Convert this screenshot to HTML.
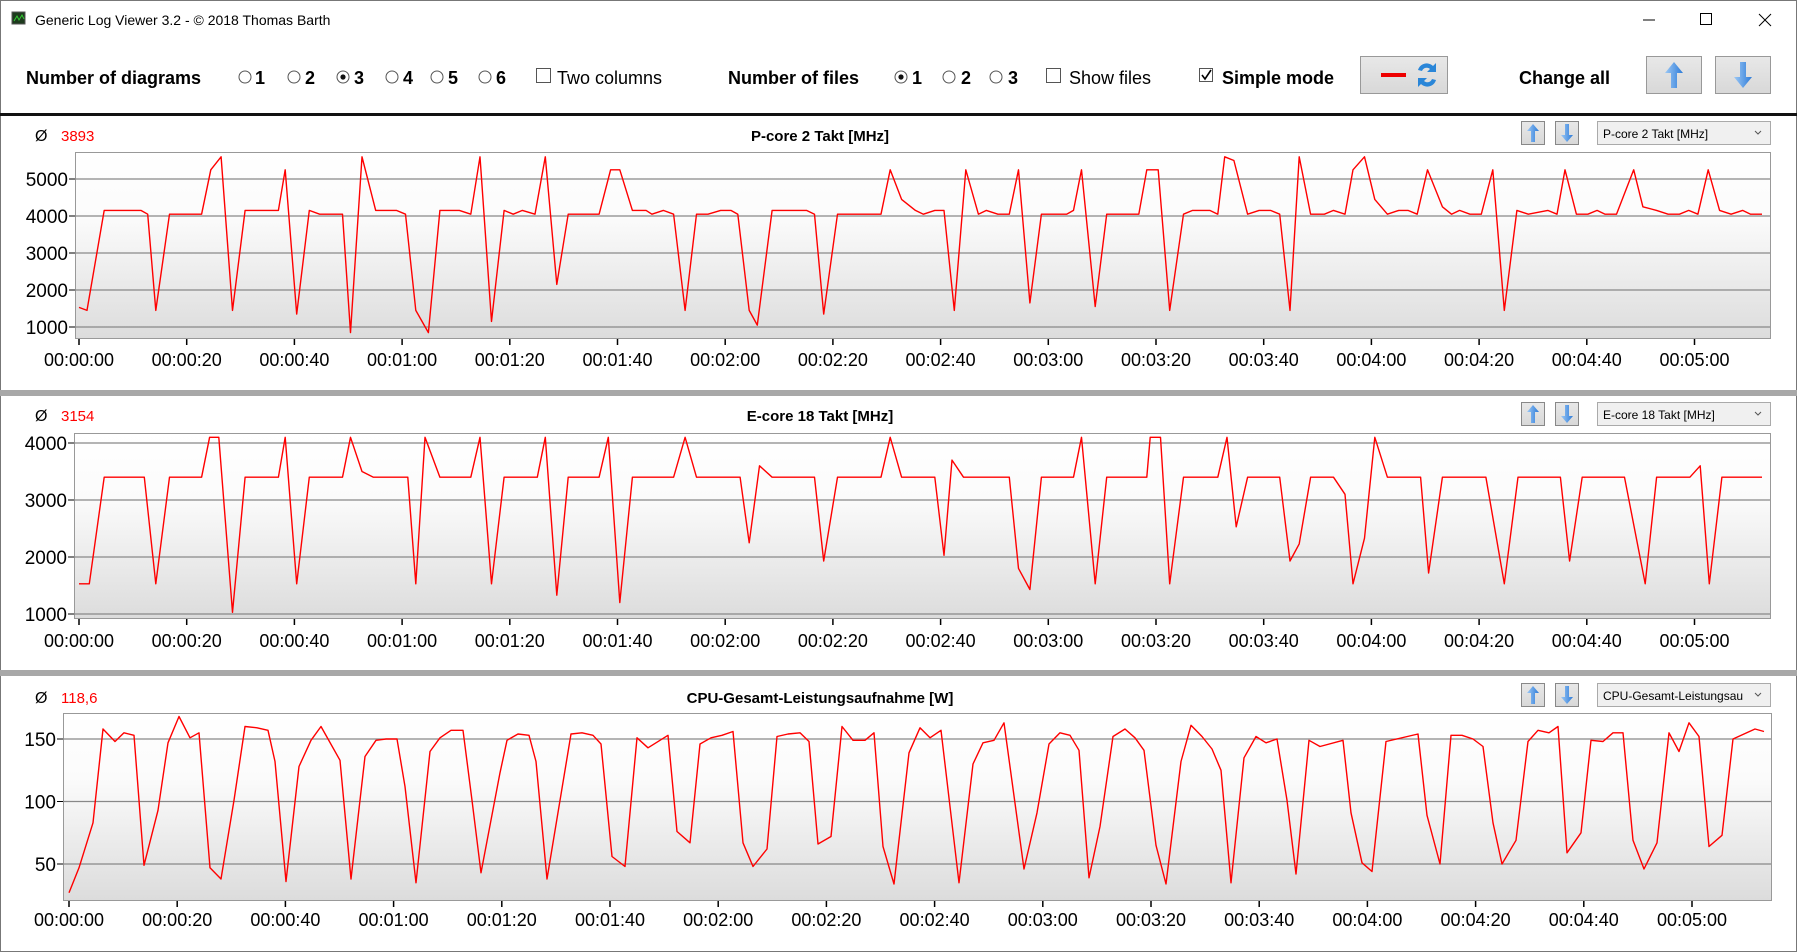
<!DOCTYPE html>
<html><head><meta charset="utf-8"><style>
html,body{margin:0;padding:0;background:#fff;width:1797px;height:952px;overflow:hidden}
svg{display:block;font-family:"Liberation Sans",sans-serif}
</style></head><body>
<svg id="s" width="1797" height="952" viewBox="0 0 1797 952" xmlns="http://www.w3.org/2000/svg">
<defs>
<linearGradient id="bg" x1="0" y1="0" x2="0" y2="1">
<stop offset="0" stop-color="#ffffff"/><stop offset="0.35" stop-color="#fbfbfb"/><stop offset="1" stop-color="#dcdcdc"/>
</linearGradient>
<linearGradient id="btn" x1="0" y1="0" x2="0" y2="1"><stop offset="0" stop-color="#e8e8e8"/><stop offset="1" stop-color="#d8d8d8"/></linearGradient>
<linearGradient id="arr" x1="0" y1="0" x2="1" y2="0"><stop offset="0" stop-color="#9cc8f5"/><stop offset="1" stop-color="#2d7bd8"/></linearGradient>
</defs>
<rect x="0.5" y="0.5" width="1796" height="951" fill="#fff" stroke="#777"/>
<rect x="12" y="12" width="13" height="12" fill="#1d3b1d" stroke="#555"/>
<polyline points="14,21 17,16 19,20 22,15 24,19" fill="none" stroke="#3c3" stroke-width="1"/>
<text x="35" y="25" font-size="14" fill="#000">Generic Log Viewer 3.2 - © 2018 Thomas Barth</text>
<line x1="1643" y1="20" x2="1655" y2="20" stroke="#000"/>
<rect x="1700.5" y="13.5" width="11" height="11" fill="none" stroke="#000"/>
<path d="M1759 14 L1771 26 M1771 14 L1759 26" stroke="#000"/>
<g font-size="18" font-weight="bold" fill="#000">
<text x="26" y="84">Number of diagrams</text>
<text x="255" y="84">1</text><text x="305" y="84">2</text><text x="354" y="84">3</text>
<text x="403" y="84">4</text><text x="448" y="84">5</text><text x="496" y="84">6</text>
<text x="728" y="84">Number of files</text>
<text x="912" y="84">1</text><text x="961" y="84">2</text><text x="1008" y="84">3</text>
<text x="1222" y="84">Simple mode</text>
<text x="1519" y="84">Change all</text>
</g>
<g fill="#fff" stroke="#555" stroke-width="1">
<circle cx="245" cy="77" r="6"/><circle cx="294" cy="77" r="6"/><circle cx="343" cy="77" r="6"/>
<circle cx="392" cy="77" r="6"/><circle cx="437" cy="77" r="6"/><circle cx="485" cy="77" r="6"/>
<circle cx="901" cy="77" r="6"/><circle cx="949" cy="77" r="6"/><circle cx="996" cy="77" r="6"/>
<rect x="536.5" y="68.5" width="14" height="14"/><rect x="1046.5" y="68.5" width="14" height="14"/>
<rect x="1199.5" y="68.5" width="13" height="13"/>
</g>
<circle cx="343" cy="77" r="2.6" fill="#111"/><circle cx="901" cy="77" r="2.6" fill="#111"/>
<path d="M1202 75 L1205 79 L1211 70" fill="none" stroke="#000" stroke-width="1.6"/>
<text x="557" y="84" font-size="18" fill="#000">Two columns</text>
<text x="1069" y="84" font-size="18" fill="#000">Show files</text>
<rect x="1360.5" y="56.5" width="87" height="37" fill="url(#btn)" stroke="#999"/>
<rect x="1381" y="73" width="25" height="4" fill="#e00"/>
<path d="M1418 70 a9 9 0 0 1 15 -4 l3 -3 v9 h-9 l3 -3 a5 5 0 0 0 -8 2z M1436 80 a9 9 0 0 1 -15 4 l-3 3 v-9 h9 l-3 3 a5 5 0 0 0 8 -2z" fill="#2a86d8"/>
<rect x="1646.5" y="56.5" width="55" height="37" fill="url(#btn)" stroke="#999"/>
<rect x="1715.5" y="56.5" width="55" height="37" fill="url(#btn)" stroke="#999"/>
<path d="M1674 62 L1683 73 L1677 73 L1677 88 L1671 88 L1671 73 L1665 73 Z" fill="url(#arr)"/>
<path d="M1743 88 L1752 77 L1746 77 L1746 62 L1740 62 L1740 77 L1734 77 Z" fill="url(#arr)"/>
<rect x="0" y="113" width="1797" height="3" fill="#111"/>
<rect x="0" y="390" width="1797" height="6" fill="#a8a8a8"/>
<rect x="0" y="670" width="1797" height="6" fill="#a8a8a8"/>
<g id="charts"></g>
</svg>
<script>
var NS="http://www.w3.org/2000/svg",G=document.getElementById("charts");
function el(t,a,txt){var e=document.createElementNS(NS,t);for(var k in a)e.setAttribute(k,a[k]);if(txt!==undefined)e.textContent=txt;G.appendChild(e);return e;}
function pad(n){return (n<10?"0":"")+n;}
function chart(o){
 el("text",{x:35,y:o.hy+6,"font-size":16,fill:"#000"},"Ø");
 el("text",{x:61,y:o.hy+6,"font-size":15,fill:"#f00"},o.avg);
 el("text",{x:820,y:o.hy+6,"font-size":15,"font-weight":"bold","text-anchor":"middle",fill:"#000"},o.title);
 var by=o.by;
 [[1521,1],[1555,0]].forEach(function(b){
  el("rect",{x:b[0]+.5,y:by+.5,width:23,height:23,fill:"url(#btn)",stroke:"#888"});
  var cx=b[0]+12;
  if(b[1])el("path",{d:"M"+cx+" "+(by+3)+" l6 7 h-4 v11 h-4 v-11 h-4z",fill:"url(#arr)"});
  else el("path",{d:"M"+cx+" "+(by+21)+" l6 -7 h-4 v-11 h-4 v11 h-4z",fill:"url(#arr)"});
 });
 el("rect",{x:1597.5,y:by+.5,width:173,height:23,fill:"#f0f0f0",stroke:"#aaa"});
 el("text",{x:1603,y:by+17,"font-size":12,fill:"#000"},o.dd);
 el("path",{d:"M1755 "+(by+10)+" l3 3 l3 -3",fill:"none",stroke:"#555"});
 el("rect",{x:o.L+.5,y:o.T+.5,width:o.R-o.L,height:o.B-o.T,fill:"url(#bg)",stroke:"#999"});
 o.grid.forEach(function(v){var y=o.vy(v);
  el("line",{x1:o.L,x2:o.R,y1:y,y2:y,stroke:"#888","stroke-width":1.2});
  el("line",{x1:o.L-6,x2:o.L,y1:y,y2:y,stroke:"#000"});
  el("text",{x:o.L-7,y:y+7,"font-size":19,"text-anchor":"end",fill:"#000"},v);
 });
 for(var k=0;k<16;k++){var x=o.x0+k*20*o.ps;
  el("line",{x1:x,x2:x,y1:o.B+1,y2:o.B+7,stroke:"#000","stroke-width":1.5});
  var s=k*20;el("text",{x:x,y:o.ly,"font-size":18,"text-anchor":"middle",fill:"#000"},"00:"+pad(Math.floor(s/60))+":"+pad(s%60));
 }
 var pts=o.d.map(function(p){return (o.px(p[0])).toFixed(1)+","+o.vy(p[1]).toFixed(1);}).join(" ");
 el("polyline",{points:pts,fill:"none",stroke:"#f00","stroke-width":1.4,"stroke-linejoin":"round"});
}
var d1=[[68,1530],[75,1450],[90,4150],[122,4150],[128,4050],[135,1450],[147,4050],[175,4050],[183,5250],[192,5600],[202,1450],[213,4150],[242,4150],[248,5250],[258,1350],[269,4150],[278,4050],[298,4050],[305,850],[315,5600],[327,4150],[345,4150],[353,4050],[362,1450],[373,850],[383,4150],[400,4150],[410,4050],[418,5600],[428,1150],[439,4150],[447,4050],[455,4150],[466,4050],[475,5600],[485,2150],[495,4050],[522,4050],[532,5250],[540,5250],[551,4150],[563,4150],[568,4050],[578,4150],[587,4050],[597,1450],[607,4050],[617,4050],[628,4150],[637,4150],[643,4050],[653,1450],[660,1050],[673,4150],[703,4150],[710,4050],[718,1350],[730,4050],[768,4050],[776,5250],[786,4450],[798,4150],[805,4050],[815,4150],[823,4150],[832,1450],[842,5250],[853,4050],[860,4150],[870,4050],[880,4050],[888,5250],[898,1650],[908,4050],[930,4050],[936,4150],[943,5250],[955,1550],[965,4050],[993,4050],[1000,5250],[1010,5250],[1020,1450],[1032,4050],[1040,4150],[1055,4150],[1062,4050],[1068,5600],[1076,5500],[1088,4050],[1098,4150],[1108,4150],[1116,4050],[1125,1450],[1133,5600],[1143,4050],[1155,4050],[1163,4150],[1173,4050],[1180,5250],[1190,5600],[1199,4450],[1210,4050],[1220,4150],[1228,4150],[1236,4050],[1245,5250],[1258,4250],[1266,4050],[1273,4150],[1282,4050],[1292,4050],[1302,5250],[1312,1450],[1323,4150],[1333,4050],[1350,4150],[1358,4050],[1365,5250],[1375,4050],[1385,4050],[1393,4150],[1400,4050],[1410,4050],[1425,5250],[1433,4250],[1445,4150],[1455,4050],[1465,4050],[1473,4150],[1481,4050],[1490,5250],[1500,4150],[1510,4050],[1520,4150],[1527,4050],[1537,4050]];
var d2=[[68,1530],[77,1530],[90,3400],[125,3400],[135,1530],[147,3400],[175,3400],[182,4100],[190,4100],[202,1030],[213,3400],[242,3400],[248,4100],[258,1530],[269,3400],[298,3400],[305,4100],[315,3500],[325,3400],[355,3400],[362,1530],[370,4100],[383,3400],[410,3400],[418,4100],[428,1530],[439,3400],[468,3400],[475,4100],[485,1330],[495,3400],[522,3400],[530,4100],[540,1200],[551,3400],[587,3400],[597,4100],[607,3400],[645,3400],[653,2250],[662,3600],[673,3400],[710,3400],[718,1930],[730,3400],[768,3400],[776,4100],[786,3400],[815,3400],[823,2030],[830,3700],[840,3400],[880,3400],[888,1800],[898,1430],[908,3400],[936,3400],[943,4100],[955,1530],[965,3400],[1000,3400],[1003,4100],[1012,4100],[1020,1530],[1032,3400],[1062,3400],[1070,4100],[1078,2530],[1088,3400],[1116,3400],[1125,1930],[1133,2230],[1143,3400],[1163,3400],[1173,3100],[1180,1530],[1190,2330],[1199,4100],[1210,3400],[1239,3400],[1246,1720],[1258,3400],[1296,3400],[1312,1530],[1324,3400],[1361,3400],[1369,1930],[1380,3400],[1417,3400],[1435,1530],[1445,3400],[1474,3400],[1483,3600],[1491,1530],[1502,3400],[1537,3400]];
var d3=[[69,27],[79,47],[93,83],[103,158],[115,148],[124,155],[134,153],[144,49],[158,93],[168,147],[179,168],[190,151],[199,155],[210,47],[221,38],[234,101],[245,160],[257,159],[268,157],[275,132],[286,36],[299,128],[311,149],[321,160],[340,133],[351,38],[365,136],[376,149],[386,150],[397,150],[405,112],[416,35],[430,140],[440,151],[451,157],[463,157],[472,101],[481,43],[500,123],[507,149],[518,154],[529,153],[536,132],[547,38],[571,154],[582,155],[593,153],[601,146],[612,56],[625,48],[637,151],[648,143],[668,153],[677,76],[690,67],[700,146],[711,151],[722,153],[733,156],[743,67],[753,48],[767,62],[777,152],[788,154],[800,155],[809,148],[818,66],[831,72],[842,160],[853,149],[865,149],[874,155],[883,64],[894,34],[909,139],[920,159],[930,151],[941,157],[959,35],[973,130],[983,147],[994,149],[1004,163],[1024,46],[1037,91],[1049,146],[1060,155],[1070,153],[1079,141],[1089,39],[1100,80],[1113,152],[1125,158],[1135,151],[1144,141],[1156,65],[1166,34],[1181,132],[1191,161],[1202,152],[1212,142],[1221,125],[1231,35],[1244,135],[1256,152],[1266,147],[1277,150],[1287,101],[1296,42],[1309,149],[1320,144],[1343,149],[1351,91],[1362,51],[1372,44],[1386,148],[1418,154],[1427,89],[1440,50],[1451,153],[1462,153],[1473,150],[1483,144],[1493,83],[1502,50],[1516,69],[1528,148],[1538,157],[1549,155],[1558,160],[1567,59],[1581,75],[1591,149],[1603,148],[1613,155],[1623,155],[1633,69],[1644,46],[1657,67],[1669,155],[1679,140],[1689,163],[1699,152],[1709,64],[1722,73],[1733,150],[1755,158],[1764,156]];
chart({hy:135,by:121,title:"P-core 2 Takt [MHz]",avg:"3893",dd:"P-core 2 Takt [MHz]",L:75,R:1770,T:152,B:338,grid:[5000,4000,3000,2000,1000],
 vy:function(v){return 327-(v-1000)*0.037;},x0:79,ps:5.385,ly:366,d:d1,px:function(p){return 79+(p-68)*1.1457;}});
chart({hy:415,by:402,title:"E-core 18 Takt [MHz]",avg:"3154",dd:"E-core 18 Takt [MHz]",L:74,R:1770,T:433,B:618,grid:[4000,3000,2000,1000],
 vy:function(v){return 443-(v-4000)*0.057;},x0:79,ps:5.385,ly:647,d:d2,px:function(p){return 79+(p-68)*1.1457;}});
chart({hy:697,by:683,title:"CPU-Gesamt-Leistungsaufnahme [W]",avg:"118,6",dd:"CPU-Gesamt-Leistungsau",L:63,R:1771,T:713,B:900,grid:[150,100,50],
 vy:function(v){return 739-(v-150)*1.25;},x0:69,ps:5.41,ly:926,d:d3,px:function(p){return p;}});
</script>
</body></html>
